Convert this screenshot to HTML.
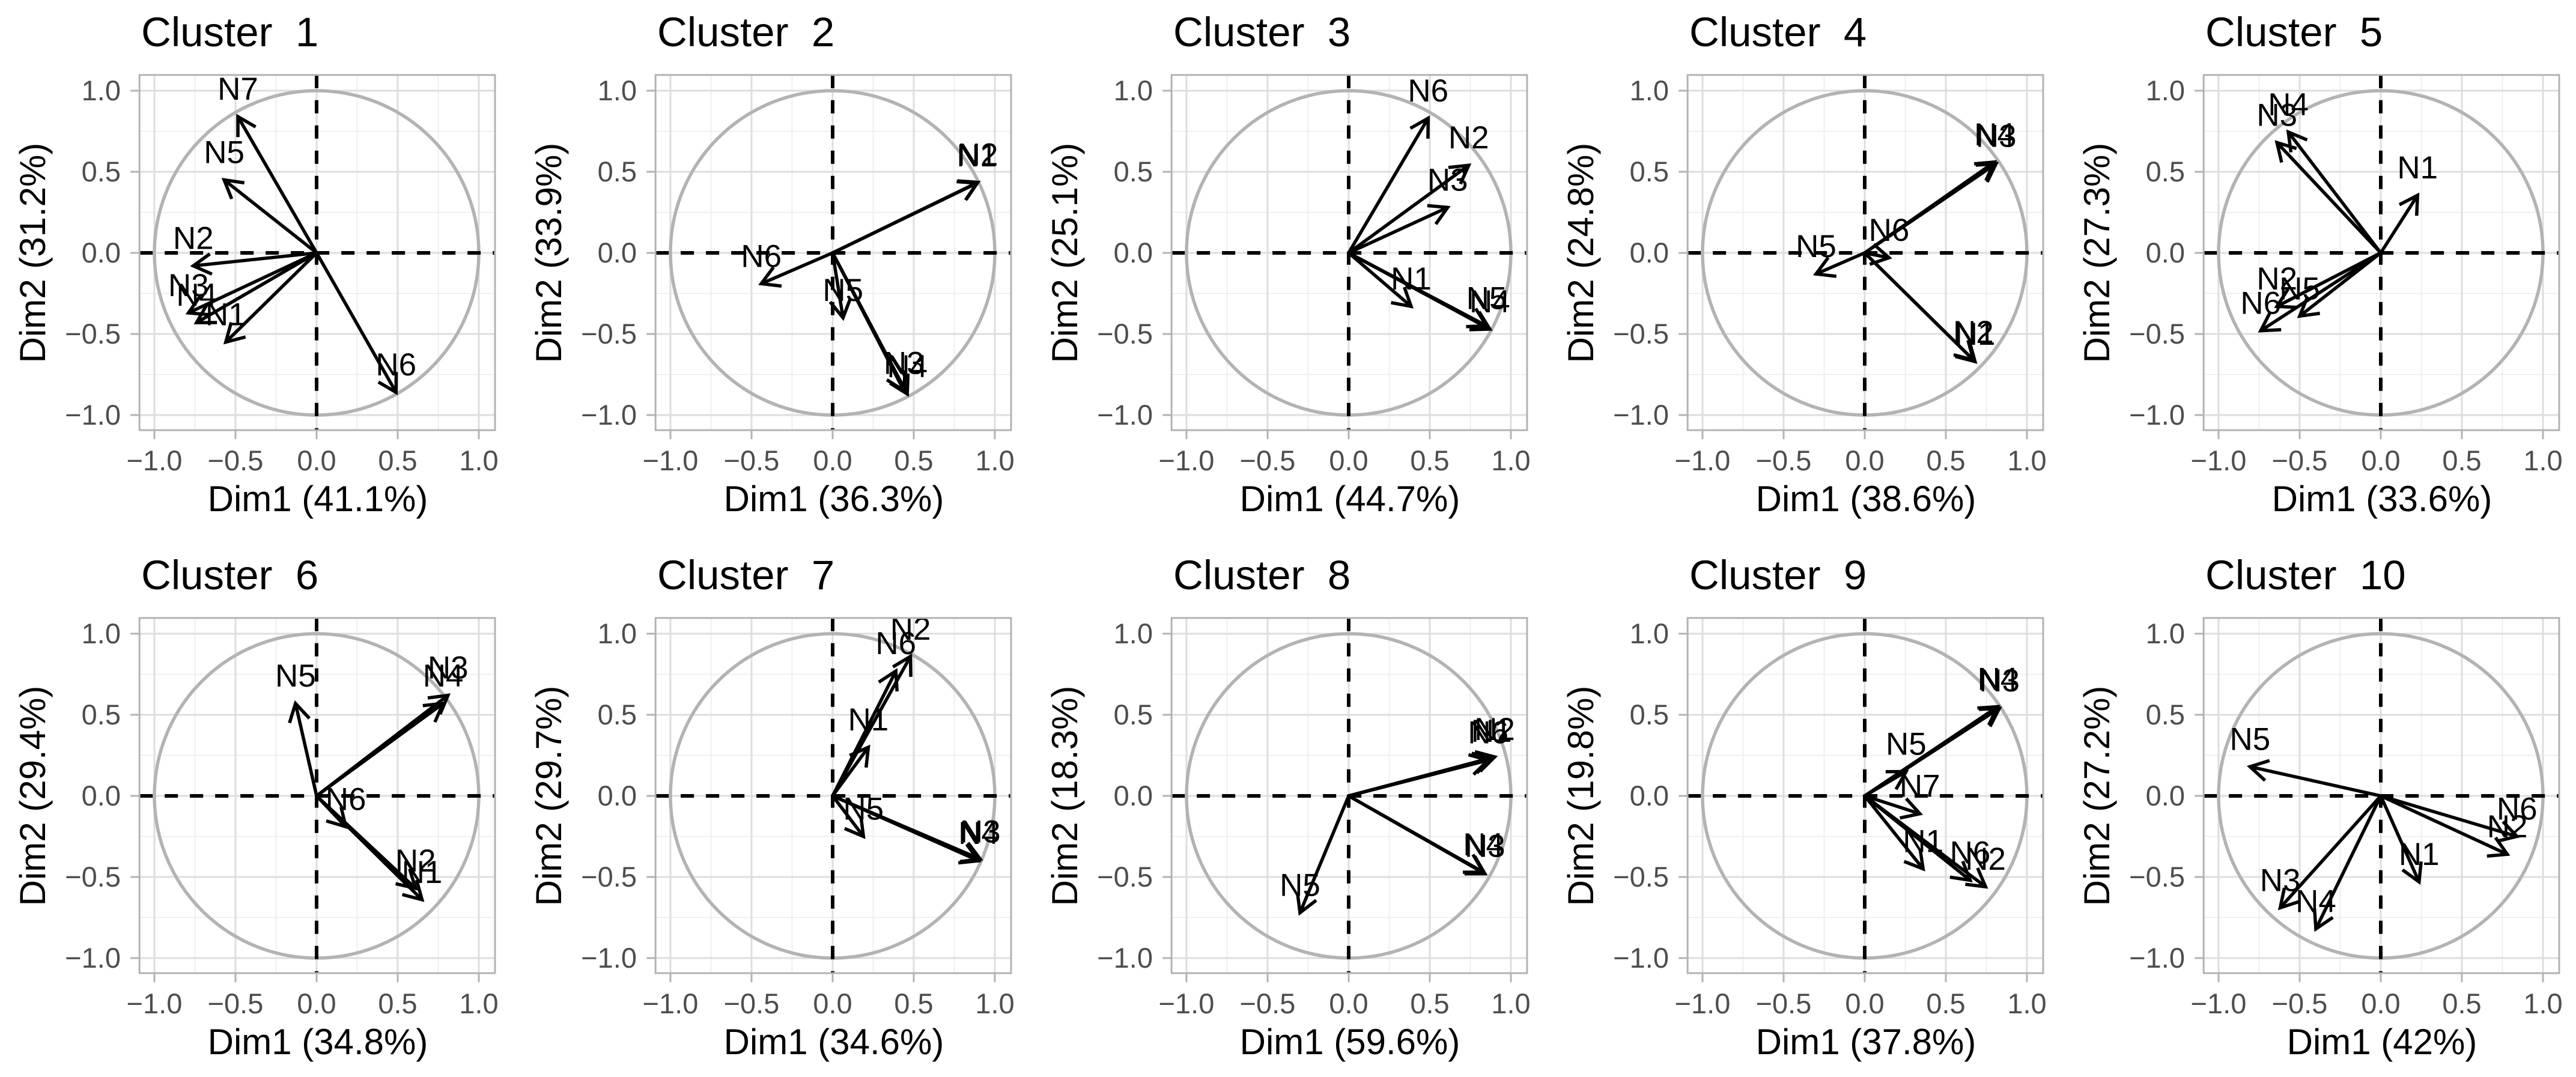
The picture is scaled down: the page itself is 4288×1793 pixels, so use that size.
<!DOCTYPE html>
<html><head><meta charset="utf-8"><style>
html,body{margin:0;padding:0;background:#fff;}
svg{display:block;font-family:"Liberation Sans",Arial,sans-serif;}
</style></head><body>
<svg id="chart" width="4288" height="1793" viewBox="0 0 4288 1793" xmlns="http://www.w3.org/2000/svg">
<rect x="0" y="0" width="4288" height="1793" fill="#fff"/>
</svg>
<script>
const clusterTitles = ["Cluster  1","Cluster  2","Cluster  3","Cluster  4","Cluster  5","Cluster  6","Cluster  7","Cluster  8","Cluster  9","Cluster  10"];
const dim1Pct = ["41.1%","36.3%","44.7%","38.6%","33.6%","34.8%","34.6%","59.6%","37.8%","42%"];
const dim2Pct = ["31.2%","33.9%","25.1%","24.8%","27.3%","29.4%","29.7%","18.3%","19.8%","27.2%"];
const tickValues = [-1.0,-0.5,0.0,0.5,1.0];
const tickLabels = ["\u22121.0","\u22120.5","0.0","0.5","1.0"];

const c1Labels = ["N1","N2","N3","N4","N5","N6","N7"];
const c1X = [-0.56,-0.76,-0.79,-0.74,-0.57,0.49,-0.485];
const c1Y = [-0.55,-0.08,-0.37,-0.43,0.45,-0.86,0.84];
const c2Labels = ["N1","N2","N3","N4","N5","N6"];
const c2X = [0.89,0.895,0.44,0.46,0.064,-0.44];
const c2Y = [0.43,0.435,-0.85,-0.87,-0.40,-0.19];
const c3Labels = ["N1","N2","N3","N4","N5","N6"];
const c3X = [0.385,0.74,0.61,0.87,0.85,0.49];
const c3Y = [-0.33,0.54,0.28,-0.47,-0.45,0.83];
const c4Labels = ["N1","N2","N3","N4","N5","N6"];
const c4X = [0.68,0.67,0.81,0.80,-0.30,0.15];
const c4Y = [-0.67,-0.66,0.55,0.56,-0.13,-0.03];
const c5Labels = ["N1","N2","N3","N4","N5","N6"];
const c5X = [0.227,-0.64,-0.64,-0.57,-0.50,-0.74];
const c5Y = [0.355,-0.33,0.68,0.745,-0.39,-0.48];
const c6Labels = ["N1","N2","N3","N4","N5","N6"];
const c6X = [0.65,0.61,0.81,0.78,-0.13,0.18];
const c6Y = [-0.64,-0.57,0.62,0.57,0.57,-0.19];
const c7Labels = ["N1","N2","N3","N4","N5","N6"];
const c7X = [0.22,0.48,0.91,0.90,0.19,0.39];
const c7Y = [0.30,0.86,-0.39,-0.40,-0.25,0.77];
const c8Labels = ["N1","N2","N3","N4","N5","N6"];
const c8X = [0.88,0.90,0.84,0.83,-0.30,0.86];
const c8Y = [0.23,0.24,-0.48,-0.47,-0.72,0.22];
const c9Labels = ["N1","N2","N3","N4","N5","N6","N7"];
const c9X = [0.36,0.745,0.83,0.82,0.255,0.65,0.34];
const c9Y = [-0.45,-0.56,0.54,0.55,0.15,-0.52,-0.11];
const c10Labels = ["N1","N2","N3","N4","N5","N6"];
const c10X = [0.236,0.78,-0.62,-0.40,-0.806,0.84];
const c10Y = [-0.53,-0.36,-0.69,-0.82,0.18,-0.25];

const allLabels = [c1Labels,c2Labels,c3Labels,c4Labels,c5Labels,c6Labels,c7Labels,c8Labels,c9Labels,c10Labels];
const allX = [c1X,c2X,c3X,c4X,c5X,c6X,c7X,c8X,c9X,c10X];
const allY = [c1Y,c2Y,c3Y,c4Y,c5Y,c6Y,c7Y,c8Y,c9Y,c10Y];

const NS = "http://www.w3.org/2000/svg";
const svg = document.getElementById("chart");
function mk(tag, attrs, parent){
  const e = document.createElementNS(NS, tag);
  for (const k in attrs) e.setAttribute(k, attrs[k]);
  (parent||svg).appendChild(e);
  return e;
}
const UNIT = 270, LIM_L = -1.092, LIM_R = 1.1, LIM_B = -1.093, LIM_T = 1.097;

for (let p = 0; p < 10; p++) {
  const col = p % 5, row = Math.floor(p / 5);
  const x0 = 527 + 859 * col, y0 = 421 + 904 * row;
  const sx = v => x0 + v * UNIT;
  const sy = v => y0 - v * UNIT;
  const g = mk("g", {});
  
  
  const L = sx(LIM_L), R = sx(LIM_R), T = sy(LIM_T), B = sy(LIM_B);
  [-0.75,-0.25,0.25,0.75].forEach(v => {
    mk("line",{x1:sx(v),x2:sx(v),y1:T,y2:B,stroke:"#ebebeb","stroke-width":1.6},g);
    mk("line",{x1:L,x2:R,y1:sy(v),y2:sy(v),stroke:"#ebebeb","stroke-width":1.6},g);
  });
  tickValues.forEach(v => {
    mk("line",{x1:sx(v),x2:sx(v),y1:T,y2:B,stroke:"#dedede","stroke-width":3},g);
    mk("line",{x1:L,x2:R,y1:sy(v),y2:sy(v),stroke:"#dedede","stroke-width":3},g);
  });
  const circ = mk("circle",{cx:x0,cy:y0,r:UNIT,fill:"none",stroke:"#b3b3b3","stroke-width":5.5},g);
  
  
  mk("line",{x1:L,x2:R,y1:y0,y2:y0,stroke:"#000","stroke-width":6,"stroke-dasharray":"22 20"},g);
  mk("line",{x1:x0,x2:x0,y1:T,y2:B,stroke:"#000","stroke-width":6,"stroke-dasharray":"22 20"},g);
  const labs = allLabels[p], xs = allX[p], ys = allY[p];
  for (let i = 0; i < labs.length; i++) {
    const tx = sx(xs[i]), ty = sy(ys[i]);
    const ag = mk("g",{},g);
    
    
    mk("line",{x1:x0,y1:y0,x2:tx,y2:ty,stroke:"#000","stroke-width":5.5,"stroke-linecap":"round"},ag);
    const ang = Math.atan2(ty - y0, tx - x0), hl = 34, ha = Math.PI/6;
    const ax1 = tx - hl*Math.cos(ang - ha), ay1 = ty - hl*Math.sin(ang - ha);
    const ax2 = tx - hl*Math.cos(ang + ha), ay2 = ty - hl*Math.sin(ang + ha);
    mk("polyline",{points:`${ax1},${ay1} ${tx},${ty} ${ax2},${ay2}`,fill:"none",stroke:"#000","stroke-width":5.5,"stroke-linejoin":"miter"},ag);
    const t = mk("text",{x:tx,y:ty-28,"text-anchor":"middle","font-size":53,fill:"#000"},ag);
    
    
    t.textContent = labs[i];
  }
  mk("rect",{x:L,y:T,width:R-L,height:B-T,fill:"none",stroke:"#b3b3b3","stroke-width":3},g);
  tickValues.forEach((v,k) => {
    mk("line",{x1:sx(v),x2:sx(v),y1:B,y2:B+15,stroke:"#b3b3b3","stroke-width":3},g);
    mk("line",{x1:L-15,x2:L,y1:sy(v),y2:sy(v),stroke:"#b3b3b3","stroke-width":3},g);
    const xt = mk("text",{x:sx(v),y:y0+362,"text-anchor":"middle","font-size":47,fill:"#4d4d4d"},g);
    
    
    xt.textContent = tickLabels[k];
    const yt = mk("text",{x:x0-326,y:sy(v)+16,"text-anchor":"end","font-size":47,fill:"#4d4d4d"},g);
    
    
    yt.textContent = tickLabels[k];
  });
  const xa = mk("text",{x:x0+2,y:y0+430,"text-anchor":"middle","font-size":60,fill:"#000"},g);
  
  
  xa.textContent = "Dim1 (" + dim1Pct[p] + ")";
  const ya = mk("text",{x:0,y:0,"text-anchor":"middle","font-size":60,fill:"#000",transform:`translate(${x0-452},${y0}) rotate(-90)`},g);
  
  
  ya.textContent = "Dim2 (" + dim2Pct[p] + ")";
  const tt = mk("text",{x:x0-292,y:y0-344,"font-size":69,fill:"#000","xml:space":"preserve"},g);
  
  
  tt.style.whiteSpace = "pre";
  tt.textContent = clusterTitles[p];
}
</script>
</body></html>
